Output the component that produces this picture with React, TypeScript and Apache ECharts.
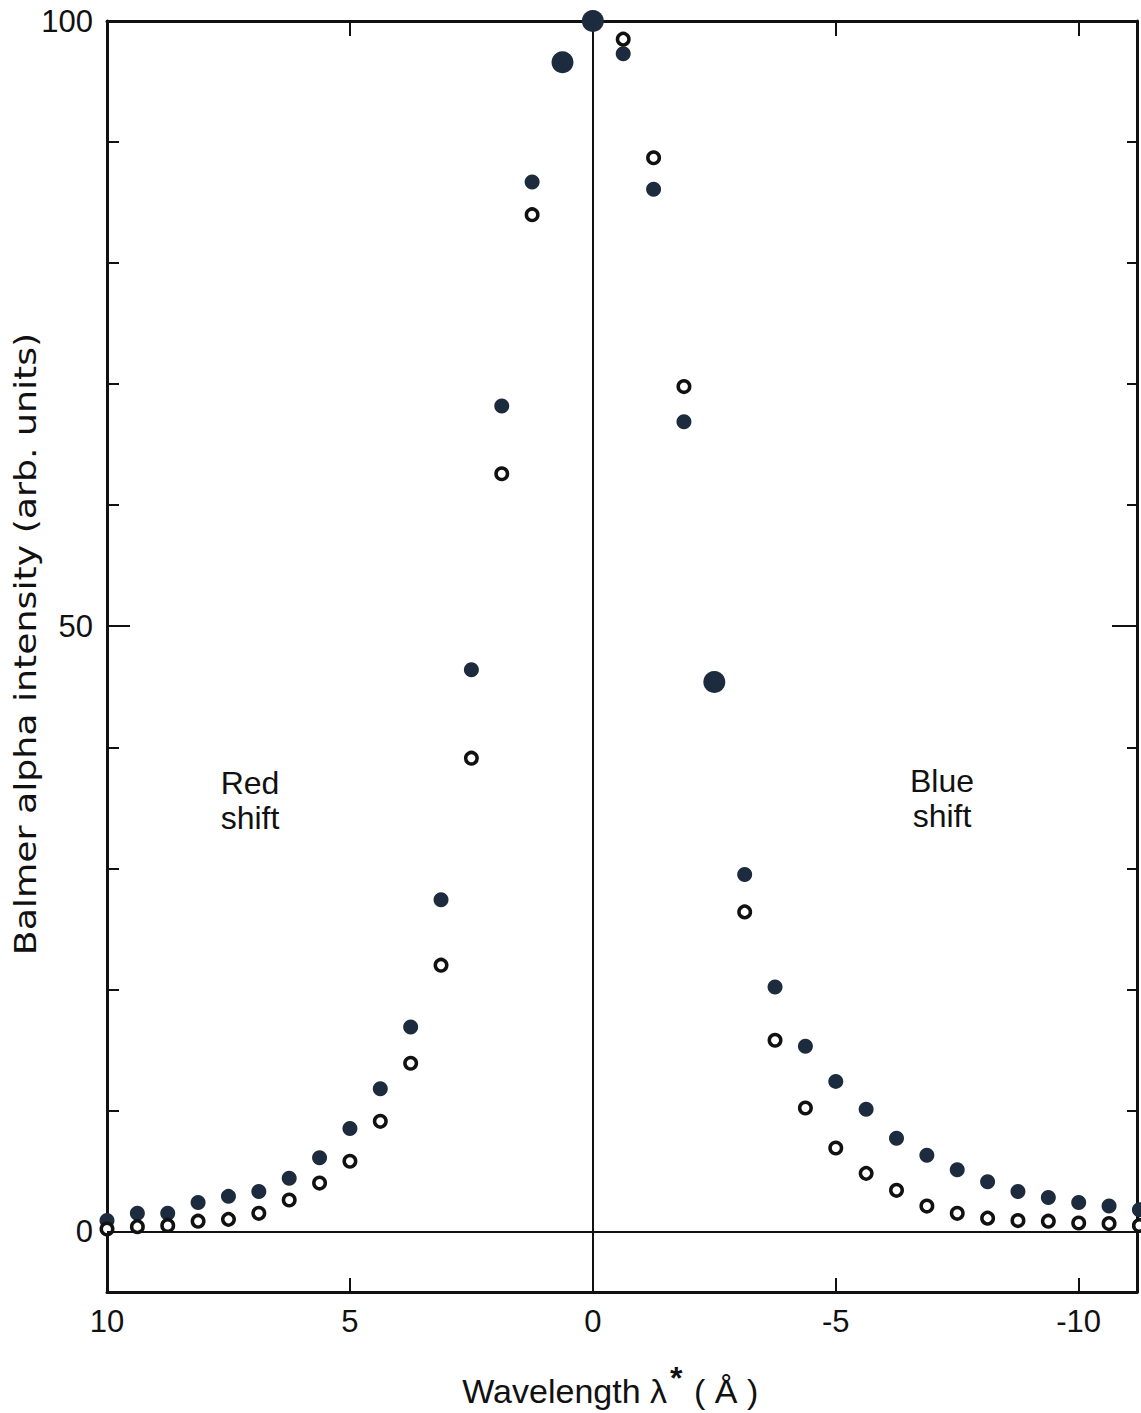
import React, { useEffect, useRef } from "react";
import * as echarts from "echarts";

// Wavelength positions (Å) and intensities (arb. units)
const filledX = [10, 9.375, 8.75, 8.125, 7.5, 6.875, 6.25, 5.625, 5, 4.375, 3.75, 3.125, 2.5, 1.875, 1.25,
  -0.625, -1.25, -1.875, -3.125, -3.75, -4.375, -5, -5.625, -6.25, -6.875, -7.5, -8.125, -8.75, -9.375, -10, -10.625, -11.25];
const filledY = [0.9, 1.5, 1.5, 2.4, 2.9, 3.3, 4.4, 6.1, 8.5, 11.8, 16.9, 27.4, 46.4, 68.2, 86.7,
  97.3, 86.1, 66.9, 29.5, 20.2, 15.3, 12.4, 10.1, 7.7, 6.3, 5.1, 4.1, 3.3, 2.8, 2.4, 2.1, 1.8];

const openX = [10, 9.375, 8.75, 8.125, 7.5, 6.875, 6.25, 5.625, 5, 4.375, 3.75, 3.125, 2.5, 1.875, 1.25,
  -0.625, -1.25, -1.875, -3.125, -3.75, -4.375, -5, -5.625, -6.25, -6.875, -7.5, -8.125, -8.75, -9.375, -10, -10.625, -11.25];
const openY = [0.2, 0.4, 0.5, 0.85, 1.0, 1.5, 2.6, 4.0, 5.8, 9.1, 13.9, 22.0, 39.1, 62.6, 84.0,
  98.5, 88.7, 69.8, 26.4, 15.8, 10.2, 6.9, 4.8, 3.4, 2.1, 1.5, 1.1, 0.9, 0.85, 0.7, 0.65, 0.5];

const largeX = [0, 0.625, -2.5];
const largeY = [100, 96.6, 45.4];

const xLabelValues = [10, 5, 0, -5, -10];
const xTickValues = [5, -5, -10];
const yLabelValues = [0, 50, 100];
const yMinorTicks = [10, 20, 30, 40, 60, 70, 80, 90];
const yMajorTicks = [50];

const INK = "#111111";
const DOT = "#1d2b3e";
const FONT = "Liberation Sans";

export default function App() {
  const ref = useRef<HTMLDivElement>(null);

  useEffect(() => {
    if (!ref.current) return;
    const chart = echarts.init(ref.current, undefined, { renderer: "svg" });

    const xBase = {
      type: "value",
      min: -11.2,
      max: 10,
      inverse: true,
      splitLine: { show: false },
    };
    const yBase = {
      type: "value",
      min: -5,
      max: 100,
      splitLine: { show: false },
    };
    const line = (show: boolean) => ({ show, onZero: false, lineStyle: { color: INK, width: 3 } });
    const labelStyle = { margin: 14, fontSize: 31, fontFamily: FONT, color: INK };

    chart.setOption({
      animation: false,
      backgroundColor: "#ffffff",
      grid: { left: 107, right: 4, top: 21, bottom: 121, containLabel: false },
      xAxis: [
        {
          ...xBase,
          position: "bottom",
          axisLine: line(true),
          axisTick: { show: true, inside: true, length: 14, customValues: xTickValues, lineStyle: { color: INK, width: 2 } },
          axisLabel: { show: true, customValues: xLabelValues, ...labelStyle },
        },
        {
          ...xBase,
          position: "top",
          axisLine: line(true),
          axisTick: { show: true, inside: true, length: 15, customValues: xTickValues, lineStyle: { color: INK, width: 2 } },
          axisLabel: { show: false },
        },
      ],
      yAxis: [
        {
          ...yBase,
          position: "left",
          axisLine: line(true),
          axisTick: { show: true, inside: true, length: 12, customValues: yMinorTicks, lineStyle: { color: INK, width: 2 } },
          axisLabel: { show: true, customValues: yLabelValues, ...labelStyle },
        },
        {
          ...yBase,
          position: "left",
          axisLine: line(false),
          axisTick: { show: true, inside: true, length: 23, customValues: yMajorTicks, lineStyle: { color: INK, width: 2 } },
          axisLabel: { show: false },
        },
        {
          ...yBase,
          position: "right",
          axisLine: line(true),
          axisTick: { show: true, inside: true, length: 10, customValues: yMinorTicks, lineStyle: { color: INK, width: 2 } },
          axisLabel: { show: false },
        },
        {
          ...yBase,
          position: "right",
          axisLine: line(false),
          axisTick: { show: true, inside: true, length: 25, customValues: yMajorTicks, lineStyle: { color: INK, width: 2 } },
          axisLabel: { show: false },
        },
      ],
      series: [
        {
          type: "scatter",
          name: "filled",
          clip: false,
          symbol: "circle",
          symbolSize: 15,
          itemStyle: { color: DOT, opacity: 1 },
          data: filledX.map((x, i) => [x, filledY[i]]),
          markLine: {
            silent: true,
            symbol: "none",
            label: { show: false },
            lineStyle: { color: INK, width: 2, type: "solid" },
            data: [{ yAxis: 0 }, { xAxis: 0 }],
          },
          z: 3,
        },
        {
          type: "scatter",
          name: "open",
          clip: false,
          symbol: "circle",
          symbolSize: 11.5,
          itemStyle: { color: "#ffffff", borderColor: INK, borderWidth: 3.5, opacity: 1 },
          data: openX.map((x, i) => [x, openY[i]]),
          z: 4,
        },
        {
          type: "scatter",
          name: "large",
          clip: false,
          symbol: "circle",
          symbolSize: 22,
          itemStyle: { color: DOT, opacity: 1 },
          data: largeX.map((x, i) => [x, largeY[i]]),
          z: 5,
        },
      ],
      graphic: [
        {
          type: "text",
          x: 250,
          y: 800,
          style: {
            text: "Red\nshift",
            font: `32px "${FONT}"`,
            fill: INK,
            align: "center",
            verticalAlign: "middle",
            lineHeight: 35,
          },
        },
        {
          type: "text",
          x: 942,
          y: 798,
          style: {
            text: "Blue\nshift",
            font: `32px "${FONT}"`,
            fill: INK,
            align: "center",
            verticalAlign: "middle",
            lineHeight: 35,
          },
        },
        {
          type: "text",
          x: 667,
          y: 1408,
          style: {
            text: "Wavelength λ",
            font: `34px "${FONT}"`,
            fill: INK,
            align: "right",
            verticalAlign: "bottom",
          },
        },
        {
          type: "text",
          x: 670,
          y: 1362,
          style: {
            text: "*",
            font: `bold 32px "${FONT}"`,
            fill: INK,
            align: "left",
            verticalAlign: "top",
          },
        },
        {
          type: "text",
          x: 694,
          y: 1408,
          style: {
            text: "( Å )",
            font: `34px "${FONT}"`,
            fill: INK,
            align: "left",
            verticalAlign: "bottom",
          },
        },
        {
          type: "text",
          x: 25,
          y: 644,
          rotation: Math.PI / 2,
          scaleX: 1.17,
          style: {
            text: "Balmer alpha intensity (arb. units)",
            font: `31px "DejaVu Sans"`,
            fill: INK,
            align: "center",
            verticalAlign: "middle",
          },
        },
      ],
    });

    return () => chart.dispose();
  }, []);

  return (
    <div
      ref={ref}
      style={{ position: "absolute", left: 0, top: 0, width: 1141, height: 1413 }}
    />
  );
}
